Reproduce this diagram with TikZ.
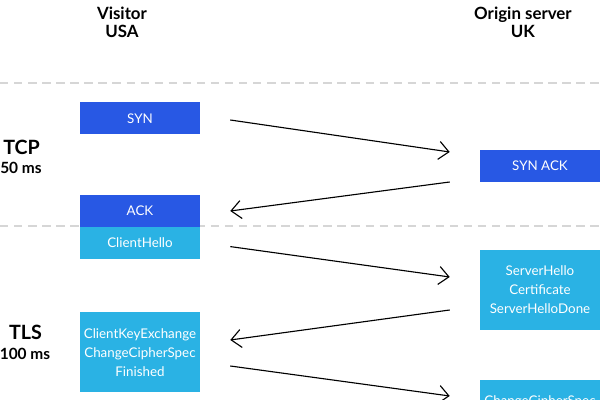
\documentclass[tikz,border=0pt]{standalone}
\usepackage{fontspec}
\setmainfont{Lato}
\usetikzlibrary{positioning, arrows.meta, calc}
\definecolor{tcpblue}{RGB}{40,88,228}
\definecolor{tlsblue}{RGB}{42,178,228}
\definecolor{gridgray}{RGB}{214,214,214}
\tikzset{
  msgbox/.style={rectangle, text=white, minimum width=3cm, minimum height=0.8cm, inner sep=0pt, align=center, font=\fontsize{9.5}{13.5}\selectfont},
  msg/.style={-{Straight Barb[length=2.5mm,width=4.5mm]}, line width=0.8pt},
  phase/.style={dash pattern=on 6pt off 4pt, line width=1pt, gridgray},
  hostlabel/.style={align=center, font=\fontsize{12}{13}\selectfont\bfseries},
  phaselabel/.style={font=\fontsize{14}{15}\selectfont\bfseries},
  timelabel/.style={font=\fontsize{11}{12}\selectfont\bfseries},
}

\begin{document}
\begin{tikzpicture}
\useasboundingbox (0,0) rectangle (15,10);
\clip (0,0) rectangle (15,10);

% Hosts
\node[hostlabel] (visitor) at (3.05,9.45) {Visitor\\USA};
\node[hostlabel] (origin) at (13.075,9.45) {Origin server\\UK};

% Phase separators
\draw[phase] (0,7.925) -- (15,7.925);
\draw[phase] (0,4.35) -- (15,4.35);

% Phases
\node[phaselabel] (tcp) at (0.54,6.325) {TCP};
\node[timelabel] (tcptime) at (0.525,5.8) {50 ms};
\node[phaselabel] (tls) at (0.64,1.7) {TLS};
\node[timelabel] (tlstime) at (0.625,1.15) {100 ms};

% TCP handshake
\node[msgbox, fill=tcpblue] (syn) at (3.5,7.04) {SYN};
\node[msgbox, fill=tcpblue] (synack) at (13.5,5.85) {SYN ACK};
\node[msgbox, fill=tcpblue] (ack) at (3.5,4.725) {ACK};

% TLS handshake
\node[msgbox, fill=tlsblue] (clienthello) at (3.5,3.925) {ClientHello};
\node[msgbox, fill=tlsblue, minimum height=2cm] (serverhello) at (13.5,2.75) {ServerHello\\Certificate\\ServerHelloDone};
\node[msgbox, fill=tlsblue, minimum height=2cm] (keyexchange) at (3.5,1.19) {ClientKeyExchange\\ChangeCipherSpec\\Finished};
\node[msgbox, fill=tlsblue, anchor=north, text height=0.62cm, text depth=1.2cm] (servercipher) at (13.5,0.5) {ChangeCipherSpec};

% Messages
\draw[msg] ($(syn.east)+(0.75,-0.04)$) -- ($(synack.west)+(-0.75,0.35)$);
\draw[msg] ($(synack.west)+(-0.75,-0.4)$) -- ($(ack.east)+(0.75,0)$);
\draw[msg] ($(clienthello.east)+(0.75,-0.09)$) -- ($(serverhello.west)+(-0.75,0.325)$);
\draw[msg] ($(serverhello.west)+(-0.75,-0.5)$) -- ($(keyexchange.east)+(0.75,0.31)$);
\draw[msg] ($(keyexchange.east)+(0.75,-0.34)$) -- ($(servercipher.north west)+(-0.75,-0.4)$);

\end{tikzpicture}
\end{document}
